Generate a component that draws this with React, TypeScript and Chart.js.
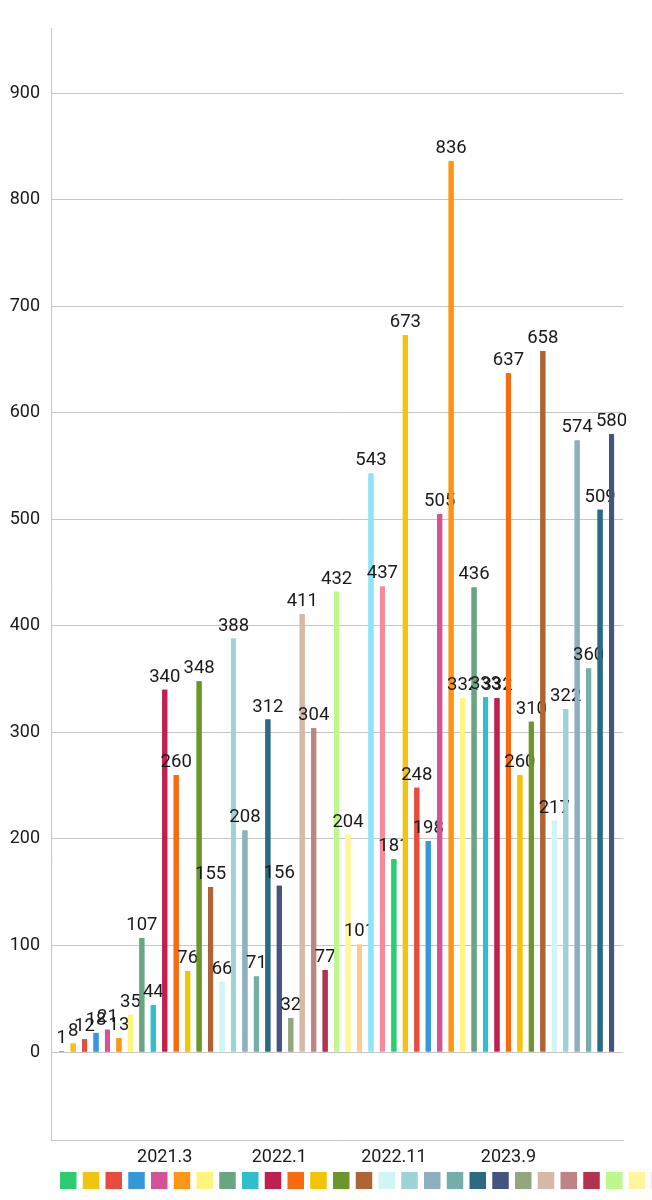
import React, { useEffect, useRef } from 'react';
import { Chart, registerables } from 'chart.js';

Chart.register(...registerables);

// one bar per month
const months = [
  '2020.6', '2020.7', '2020.8', '2020.9', '2020.10', '2020.11', '2020.12',
  '2021.1', '2021.2', '2021.3', '2021.4', '2021.5', '2021.6', '2021.7', '2021.8', '2021.9', '2021.10', '2021.11', '2021.12',
  '2022.1', '2022.2', '2022.3', '2022.4', '2022.5', '2022.6', '2022.7', '2022.8', '2022.9', '2022.10', '2022.11', '2022.12',
  '2023.1', '2023.2', '2023.3', '2023.4', '2023.5', '2023.6', '2023.7', '2023.8', '2023.9', '2023.10', '2023.11', '2023.12',
  '2024.1', '2024.2', '2024.3', '2024.4', '2024.5', '2024.6',
];

const counts = [
  1, 8, 12, 18, 21, 13, 35, 107, 44, 340,
  260, 76, 348, 155, 66, 388, 208, 71, 312, 156,
  32, 411, 304, 77, 432, 204, 101, 543, 437, 181,
  673, 248, 198, 505, 836, 332, 436, 333, 332, 637,
  260, 310, 658, 217, 322, 574, 360, 509, 580,
];

// months that get a label under the axis
const shownMonths = ['2021.3', '2022.1', '2022.11', '2023.9'];

const yTicks = [0, 100, 200, 300, 400, 500, 600, 700, 800, 900];

const palette = [
  '#2ecc71', '#f1c40f', '#e74c3c', '#3498db', '#d35494', '#ff9514', '#fff47c', '#6aa583',
  '#2fbfcc', '#c0204f', '#f9690e', '#f5c400', '#6b972a', '#b06436', '#d0f5f5', '#9dd2d6',
  '#8eafbd', '#73aeab', '#2a6a82', '#41557f', '#94a67d', '#d6b8a6', '#bc8584', '#b2324f',
  '#bef78b', '#fff59a', '#fbca8c', '#8de4f6', '#f48c9b',
];

const barColors = months.map((_, i) => palette[i % palette.length]);

const TEXT = '#1a1a1a';
const GRID = '#c6c6c6';

// labels drawn bar by bar so a later bar covers earlier text, like the original
const barLabels = {
  id: 'barLabels',
  afterDatasetsDraw(chart: any) {
    const ctx = chart.ctx;
    const meta = chart.getDatasetMeta(0);
    ctx.save();
    ctx.font = '18.5px Roboto';
    ctx.textAlign = 'center';
    ctx.textBaseline = 'alphabetic';
    meta.data.forEach((bar: any, i: number) => {
      bar.draw(ctx);
      ctx.fillStyle = TEXT;
      ctx.fillText(String(counts[i]), bar.x, bar.y - 8);
    });
    ctx.restore();
  },
};

// icon-only legend row, runs off the right edge
const squareLegend = {
  id: 'squareLegend',
  afterDraw(chart: any) {
    const ctx = chart.ctx;
    const { left, bottom } = chart.chartArea;
    ctx.save();
    barColors.forEach((c, i) => {
      ctx.fillStyle = c;
      ctx.fillRect(left + 9 + i * 22.75, bottom + 32, 16.5, 17);
    });
    ctx.restore();
  },
};

export default function App() {
  const canvasRef = useRef<HTMLCanvasElement>(null);

  useEffect(() => {
    if (!canvasRef.current) return;
    const chart = new Chart(canvasRef.current, {
      type: 'bar',
      data: {
        datasets: [{
          data: counts.map((v, i) => ({ x: i, y: v })),
          backgroundColor: barColors,
          categoryPercentage: 1,
          barPercentage: 0.44,
        }],
      },
      options: {
        animation: false,
        responsive: true,
        maintainAspectRatio: false,
        font: { family: 'Roboto' },
        layout: { padding: { top: 28, right: 29, left: 0, bottom: 0 } },
        plugins: {
          legend: { display: false },
          tooltip: { enabled: false },
        },
        scales: {
          x: {
            type: 'linear',
            offset: false,
            bounds: 'data',
            min: -0.93,
            max: 49,
            grid: { display: false, drawTicks: false, offset: false },
            border: { display: true, color: GRID },
            afterBuildTicks: (s: any) => {
              s.ticks = shownMonths.map(m => ({ value: months.indexOf(m) }));
            },
            afterFit: (s: any) => { s.height = 60; },
            ticks: {
              autoSkip: false,
              maxRotation: 0,
              padding: 7,
              color: TEXT,
              font: { family: 'Roboto', size: 18 },
              callback: (v: any) => months[v],
            },
          },
          y: {
            min: -82.5,
            max: 961,
            grid: { color: GRID, drawTicks: false },
            border: { display: true, color: GRID },
            afterBuildTicks: (s: any) => {
              s.ticks = yTicks.map(v => ({ value: v }));
            },
            afterFit: (s: any) => { s.width = 51; },
            ticks: {
              padding: 11,
              color: TEXT,
              font: { family: 'Roboto', size: 18 },
            },
          },
        },
      },
      plugins: [barLabels, squareLegend],
    });
    return () => chart.destroy();
  }, []);

  return (
    <div style={{ position: 'absolute', left: 0, top: 0, width: 652, height: 1200, background: '#fff' }}>
      <canvas ref={canvasRef} />
    </div>
  );
}
